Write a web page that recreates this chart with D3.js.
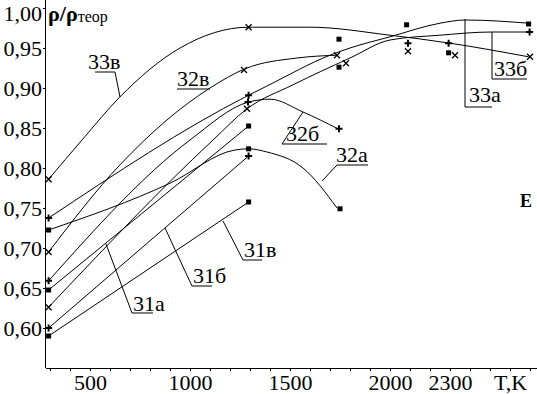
<!DOCTYPE html>
<html>
<head>
<meta charset="utf-8">
<script src="https://cdn.jsdelivr.net/npm/d3@7"></script>
<style>
  body { margin: 0; background: #fff; }
  svg text { font-family: "Liberation Serif", "Times New Roman", serif; fill: #000; }
</style>
</head>
<body>
<script>
// temperature ticks (K) and density ticks
const tempTicks = d3.range(300, 2701, 100);
const tempLabels = { 500: "500", 1000: "1000", 1500: "1500", 2000: "2000", 2300: "2300", 2600: "T,K" };
const rhoTicks = [0.60, 0.65, 0.70, 0.75, 0.80, 0.85, 0.90, 0.95, 1.00];

// curves [T, rho/rho_theor]
const curve31a = [[293, 0.6475], [1293, 0.8525]];
const curve31b = [[293, 0.600], [1293, 0.815]];
const curve31v = [[293, 0.590], [1293, 0.7575]];
const curve32a = [[293, 0.7225], [900, 0.781], [1225, 0.8225], [1293, 0.824], [1385, 0.820], [1565, 0.800], [1735, 0.750]];
const curve32b = [[293, 0.659], [1000, 0.835], [1293, 0.8825], [1400, 0.886], [1565, 0.870], [1740, 0.849]];
const curve32v = [[293, 0.695], [650, 0.804], [1100, 0.900], [1275, 0.924], [1535, 0.9375], [1735, 0.941]];
const curve33a = [[293, 0.7375], [1293, 0.891], [1385, 0.9025], [1700, 0.941], [1800, 0.950], [2000, 0.964], [2250, 0.981], [2375, 0.985], [2693, 0.981]];
const curve33b = [[293, 0.626], [1115, 0.835], [1285, 0.874], [1515, 0.904], [1800, 0.9375], [2000, 0.960], [2250, 0.966], [2510, 0.970], [2693, 0.970]];
const curve33v = [[293, 0.786], [460, 0.835], [650, 0.889], [950, 0.950], [1293, 0.976], [1600, 0.976], [2000, 0.966], [2300, 0.956], [2693, 0.939]];

// measured points by symbol
const squares = [[293, 0.7225], [293, 0.6475], [293, 0.590], [1293, 0.8525], [1293, 0.824], [1293, 0.7575],
  [1745, 0.961], [1745, 0.926], [1750, 0.749], [2083, 0.979], [2293, 0.944], [2693, 0.980]];
const pluses = [[293, 0.7375], [293, 0.659], [293, 0.600], [1293, 0.891], [1290, 0.8825], [1293, 0.815],
  [1745, 0.849], [2090, 0.956], [2293, 0.956], [2698, 0.970]];
const crosses = [[293, 0.786], [293, 0.695], [293, 0.626], [1293, 0.976], [1270, 0.9225], [1285, 0.874],
  [1735, 0.941], [1780, 0.931], [2090, 0.946], [2325, 0.941], [2700, 0.939]];

const width = 537, height = 394;

const svg = d3.select("body")
  .append("svg")
  .attr("width", width)
  .attr("height", height);

const x = d3.scaleLinear().domain([275, 2735]).range([45, 537]);
const y = d3.scaleLinear().domain([0.55, 1.0]).range([368, 8]);

// x axis
const xAxis = svg.append("g")
  .attr("transform", "translate(0,368)")
  .call(d3.axisBottom(x).tickValues(tempTicks).tickSize(3).tickSizeOuter(0).tickPadding(3)
    .tickFormat(d => tempLabels[d] || ""));
xAxis.select(".domain").attr("stroke", "#000").attr("shape-rendering", "crispEdges");
xAxis.selectAll(".tick line").attr("stroke", "#000").attr("shape-rendering", "crispEdges");
xAxis.selectAll("text").attr("font-size", "22px");

// y axis
const yAxis = svg.append("g")
  .attr("transform", "translate(45,0)")
  .call(d3.axisLeft(y).tickValues(rhoTicks).tickSize(2).tickPadding(1)
    .tickFormat(d => d3.format(".2f")(d).replace(".", ",")));
yAxis.select(".domain").remove();
yAxis.selectAll(".tick line").attr("stroke", "#000").attr("shape-rendering", "crispEdges");
yAxis.selectAll("text").attr("font-size", "22px")
  .attr("dy", d => d === 1.0 ? "0.55em" : "0.35em");
svg.append("line")
  .attr("x1", 45.5).attr("x2", 45.5).attr("y1", 0).attr("y2", 368)
  .attr("stroke", "#000");

// title
const title = svg.append("text").attr("x", 48).attr("y", 21);
title.append("tspan").attr("font-weight", "bold").attr("font-size", "22px").text("ρ/ρ");
title.append("tspan").attr("font-size", "16px").attr("dy", 1).text("теор");

svg.append("text")
  .attr("x", 520).attr("y", 207)
  .attr("font-weight", "bold").attr("font-size", "18px")
  .text("Е");

// curves
const line = d3.line()
  .x(d => x(d[0]))
  .y(d => y(d[1]))
  .curve(d3.curveMonotoneX);

const curves = [curve31a, curve31b, curve31v, curve32a, curve32b, curve32v, curve33a, curve33b, curve33v];
svg.append("g")
  .selectAll("path")
  .data(curves)
  .enter()
  .append("path")
  .attr("d", line)
  .attr("fill", "none")
  .attr("stroke", "#000")
  .attr("stroke-width", 1);

// markers
svg.append("g")
  .selectAll("rect")
  .data(squares)
  .enter()
  .append("rect")
  .attr("x", d => x(d[0]) - 2.5)
  .attr("y", d => y(d[1]) - 2.5)
  .attr("width", 5)
  .attr("height", 5)
  .attr("fill", "#000");

svg.append("g")
  .selectAll("path")
  .data(pluses)
  .enter()
  .append("path")
  .attr("d", d => {
    const cx = x(d[0]), cy = y(d[1]);
    return `M${cx - 3.5},${cy}H${cx + 3.5}M${cx},${cy - 3.5}V${cy + 3.5}`;
  })
  .attr("stroke", "#000")
  .attr("stroke-width", 2);

svg.append("g")
  .selectAll("path")
  .data(crosses)
  .enter()
  .append("path")
  .attr("d", d => {
    const cx = x(d[0]), cy = y(d[1]);
    return `M${cx - 3},${cy - 3}L${cx + 3},${cy + 3}M${cx - 3},${cy + 3}L${cx + 3},${cy - 3}`;
  })
  .attr("stroke", "#000")
  .attr("stroke-width", 1.3);

// curve labels with leaders
const notes = [
  { text: "33в", tx: 88, ty: 69, leader: [[95, 72], [115, 72], [120, 97]] },
  { text: "32в", tx: 177, ty: 86, leader: [[177, 89], [210, 89]] },
  { text: "32б", tx: 286, ty: 141, leader: [[327, 144], [282, 144], [303, 112]] },
  { text: "32а", tx: 336, ty: 162, leader: [[368, 165], [337, 165], [322, 181]] },
  { text: "31в", tx: 244, ty: 257, leader: [[262, 260], [243, 260], [223, 221]] },
  { text: "31б", tx: 193, ty: 283, leader: [[212, 286], [192, 286], [165, 228]] },
  { text: "31а", tx: 133, ty: 311, leader: [[153, 313], [132, 313], [106, 244]] },
  { text: "33а", tx: 469, ty: 102, leader: [[465, 19], [465, 107], [492, 107]] },
  { text: "33б", tx: 494, ty: 76, leader: [[492, 32], [492, 79], [527, 79]] }
];

const noteG = svg.append("g");
notes.forEach(n => {
  noteG.append("path")
    .attr("d", d3.line()(n.leader))
    .attr("fill", "none")
    .attr("stroke", "#000")
    .attr("stroke-width", 1);
  noteG.append("text")
    .attr("x", n.tx)
    .attr("y", n.ty)
    .attr("font-size", "22px")
    .text(n.text);
});
</script>
</body>
</html>
